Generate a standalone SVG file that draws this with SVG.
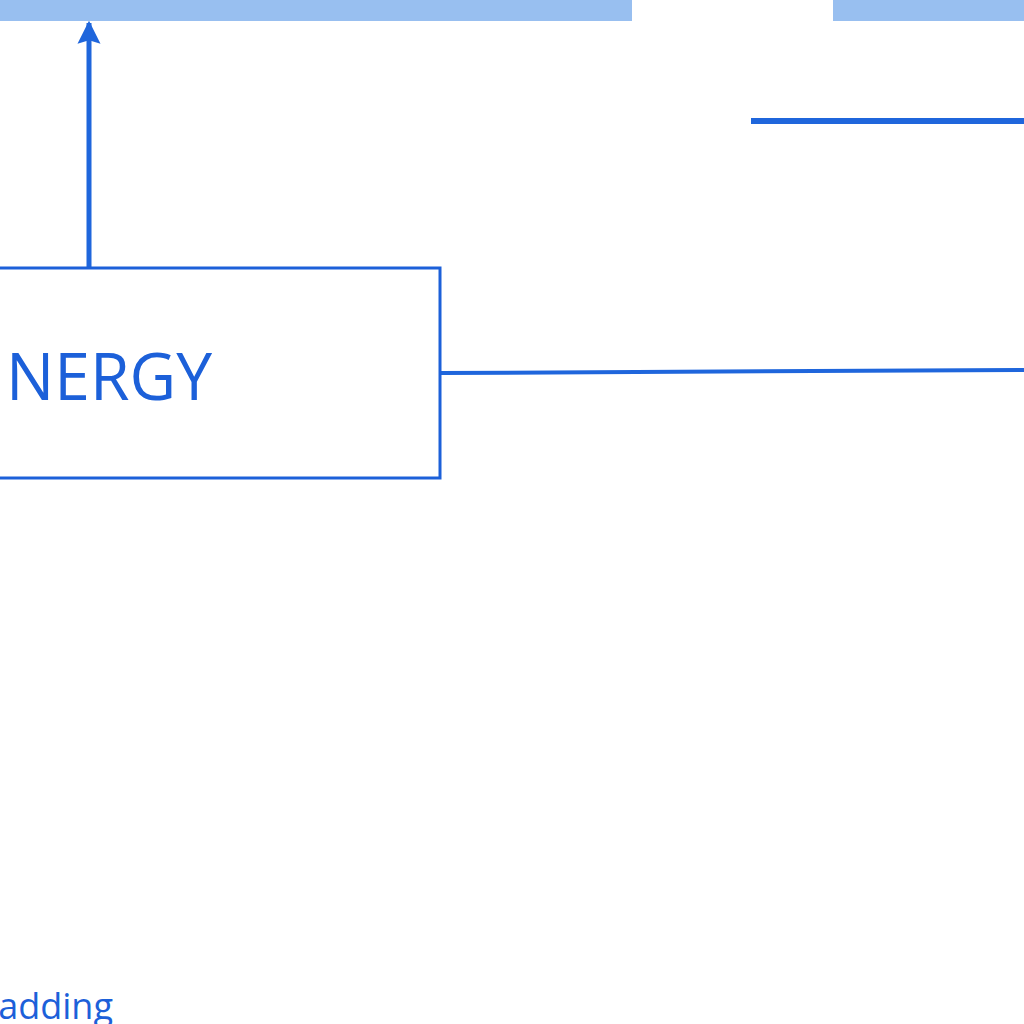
<svg xmlns="http://www.w3.org/2000/svg" width="1024" height="1024" viewBox="0 0 1024 1024">
<defs>
<style>
.bar{fill:#98bff0}
.conn{stroke:#1f66dc;fill:none}
.node{fill:#ffffff;stroke:#1c60d9;stroke-width:3}
.lbl{font-family:"Open Sans","Noto Sans",sans-serif;fill:#1c60d9}
</style>
<marker id="ah" viewBox="0 0 10 10" refX="9" refY="5" markerWidth="4.6" markerHeight="4.8" orient="auto" markerUnits="strokeWidth">
<path d="M0,0 L10,5 L0,10 L1.5,5 Z" fill="#1f66dc"/>
</marker>
</defs>
<rect width="1024" height="1024" fill="#ffffff"/>
<g id="topbars">
<rect class="bar" x="0" y="0" width="632" height="21"/>
<rect class="bar" x="833" y="0" width="191" height="21"/>
</g>
<g id="connectors">
<line class="conn" x1="89" y1="267" x2="89" y2="23" stroke-width="5" marker-end="url(#ah)"/>
<line class="conn" x1="751" y1="121" x2="1024" y2="121" stroke-width="6"/>
<line class="conn" x1="441" y1="373" x2="1024" y2="370" stroke-width="4"/>
</g>
<g id="node-energy">
<rect class="node" x="-10" y="268" width="450" height="210"/>
<text class="lbl" x="6" y="400" font-size="66" textLength="206" lengthAdjust="spacingAndGlyphs">NERGY</text>
</g>
<g id="label-padding">
<text class="lbl" x="113" y="1019" font-size="36" text-anchor="end">adding</text>
</g>
</svg>
